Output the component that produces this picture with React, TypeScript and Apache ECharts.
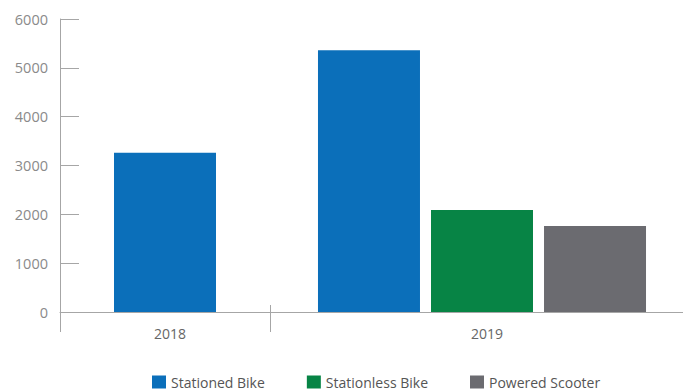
import React, { useEffect, useRef } from "react";
import * as echarts from "echarts";

const years = ["2018", "2019"];
const seriesNames = ["Stationed Bike", "Stationless Bike", "Powered Scooter"];
const stationedBike = [3260, 5360];
const stationlessBike = [null, 2090];
const poweredScooter = [null, 1760];
const yTicks = { min: 0, max: 6000, interval: 1000 };

const colors = ["#0b6fba", "#078445", "#6b6b70"];
const axisColor = "#a6a6a6";
const font = "'Open Sans', 'Noto Sans', sans-serif";

export default function App() {
  const ref = useRef<HTMLDivElement>(null);
  useEffect(() => {
    if (!ref.current) return;
    const chart = echarts.init(ref.current, undefined, { renderer: "svg" });
    const barW = 102;
    chart.setOption({
      animation: false,
      textStyle: { fontFamily: font },
      legend: {
        data: seriesNames,
        left: 152,
        top: 375,
        padding: 0,
        icon: "rect",
        itemWidth: 14,
        itemHeight: 13,
        itemGap: 42,
        textStyle: { fontFamily: font, fontSize: 14, color: "#555", lineHeight: 14 },
      },
      grid: [
        { left: 60, top: 19, width: 210, bottom: 80 },
        { left: 281, top: 19, width: 402, bottom: 80 },
      ],
      graphic: [
        {
          type: "line",
          shape: { x1: 270, y1: 312.5, x2: 281, y2: 312.5 },
          style: { stroke: axisColor, lineWidth: 1 },
        },
      ],
      xAxis: [
        {
          type: "category",
          gridIndex: 0,
          position: "bottom",
          data: [years[0]],
          axisLine: { lineStyle: { color: axisColor, width: 1 } },
          axisTick: { show: true, length: 20, lineStyle: { color: axisColor } },
          axisLabel: { color: "#666", fontSize: 14, margin: 14, fontFamily: font, padding: [0, 0, 0, 10] },
        },
        {
          type: "category",
          gridIndex: 0,
          position: "bottom",
          offset: 0,
          data: [years[0]],
          axisLine: { show: false },
          axisTick: { show: true, inside: true, length: 7, lineStyle: { color: axisColor } },
          axisLabel: { show: false },
        },
        {
          type: "category",
          gridIndex: 1,
          position: "bottom",
          data: [years[1]],
          axisLine: { lineStyle: { color: axisColor, width: 1 } },
          axisTick: { show: false },
          axisLabel: { color: "#666", fontSize: 14, margin: 14, fontFamily: font, padding: [0, 0, 0, 10] },
        },
      ],
      yAxis: [
        {
          type: "value",
          gridIndex: 0,
          ...yTicks,
          axisLine: { show: true, lineStyle: { color: axisColor } },
          axisTick: { show: true, inside: true, length: 19, lineStyle: { color: axisColor } },
          splitLine: { show: false },
          axisLabel: {
            color: "#8a8a8a",
            fontSize: 14.5,
            margin: 12,
            fontFamily: font,
            formatter: (v: number) => String(v),
          },
        },
        {
          type: "value",
          gridIndex: 1,
          ...yTicks,
          show: false,
          splitLine: { show: false },
        },
      ],
      series: [
        {
          name: seriesNames[0],
          type: "bar",
          xAxisIndex: 0,
          yAxisIndex: 0,
          data: [stationedBike[0]],
          barWidth: barW,
          itemStyle: { color: colors[0] },
        },
        {
          name: seriesNames[0],
          type: "bar",
          xAxisIndex: 2,
          yAxisIndex: 1,
          data: [stationedBike[1]],
          barWidth: barW,
          barGap: "10.8%",
          itemStyle: { color: colors[0] },
        },
        {
          name: seriesNames[1],
          type: "bar",
          xAxisIndex: 2,
          yAxisIndex: 1,
          data: [stationlessBike[1]],
          barWidth: barW,
          barGap: "10.8%",
          itemStyle: { color: colors[1] },
        },
        {
          name: seriesNames[2],
          type: "bar",
          xAxisIndex: 2,
          yAxisIndex: 1,
          data: [poweredScooter[1]],
          barWidth: barW,
          barGap: "10.8%",
          itemStyle: { color: colors[2] },
        },
      ],
    });
    return () => chart.dispose();
  }, []);
  return (
    <div
      ref={ref}
      style={{ position: "fixed", left: 0, top: 0, width: 683, height: 392, background: "#fff" }}
    />
  );
}
